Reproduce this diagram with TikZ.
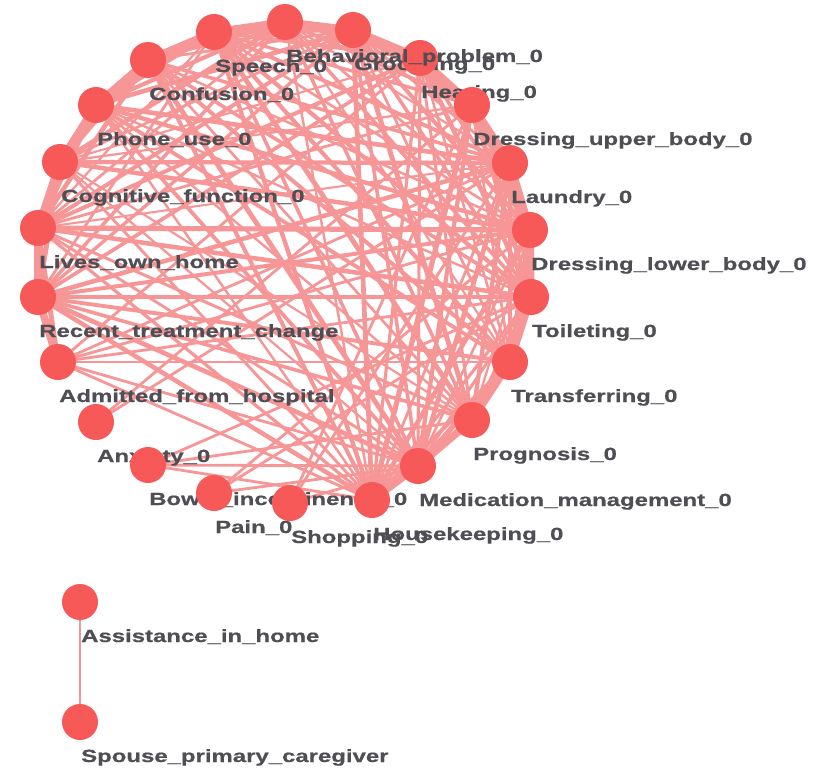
\documentclass[tikz,border=0pt]{standalone}
\usepackage{fontspec}
\newfontfamily\labfont[FakeStretch=1.36,FakeBold=0.6]{Liberation Sans Bold}
\definecolor{nodecol}{RGB}{247,88,88}
\definecolor{edgecol}{RGB}{247,150,150}
\definecolor{txtcol}{RGB}{78,78,84}
\pgfdeclarelayer{bg}
\pgfdeclarelayer{labl}
\pgfdeclarelayer{fg}
\pgfsetlayers{bg,labl,main,fg}
\begin{document}
\begin{tikzpicture}[x=1pt,y=-1pt,
  vtx/.style={circle,fill=nodecol,minimum size=36pt,inner sep=0pt},
  lab/.style={anchor=base west,inner sep=0pt,text=txtcol,font=\labfont\fontsize{17.6}{18}\selectfont},
  edge/.style={draw=edgecol,line cap=round},
  thick edge/.style={edge,line width=7.5pt},
  mid edge/.style={edge,line width=5pt},
  thin edge/.style={edge,line width=2.8pt}]
\path[use as bounding box] (0,0) rectangle (817,768);
\foreach \n/\x/\y/\t in {
  sp/214/32/Speech\_0, gr/353/30/Grooming\_0, he/420/58/Hearing\_0,
  du/472/105/Dressing\_upper\_body\_0, la/510/163/Laundry\_0,
  dl/530/230/Dressing\_lower\_body\_0, to/531/297/Toileting\_0,
  tr/510/362/Transferring\_0, pr/472/420/Prognosis\_0,
  mm/418/466/Medication\_management\_0, hk/372/500/Housekeeping\_0,
  sh/290/503/Shopping\_0, pa/214/493/Pain\_0,
  bo/148/465/Bowel\_incontinence\_0, an/96/422/Anxiety\_0,
  ad/58/362/Admitted\_from\_hospital, rt/38/297/Recent\_treatment\_change,
  lo/38/228/Lives\_own\_home, cf/60/162/Cognitive\_function\_0,
  ph/96/105/Phone\_use\_0, co/148/60/Confusion\_0,
  ah/80/602/Assistance\_in\_home, spc/80/722/Spouse\_primary\_caregiver}{
  \node[vtx] (\n) at (\x,\y) {};
  \begin{pgfonlayer}{labl}
    \node[lab] (\n-l) at (\x+1,\y+40) {\t};
  \end{pgfonlayer}
}
\node[vtx] (be) at (285,22) {};
\begin{pgfonlayer}{fg}
  \node[lab] (be-l) at (286,62) {Behavioral\_problem\_0};
\end{pgfonlayer}
\begin{pgfonlayer}{bg}
  \fill[white] (0,0) rectangle (817,768);
  \pgfmathsetseed{11}
  \foreach \a [count=\i] in {sp,be,gr,he,du,la,dl,to,tr,pr,mm,hk,co,ph,cf,lo,rt}{
    \foreach \b [count=\j] in {sp,be,gr,he,du,la,dl,to,tr,pr,mm,hk,co,ph,cf,lo,rt}{
      \ifnum\j>\i\relax
        \pgfmathsetmacro\r{rnd}
        \pgfmathsetmacro\w{2.0+3.2*rnd}
        \ifdim\r pt<0.85pt
          \draw[edge,line width=\w pt] (\a.center) -- (\b.center);
        \fi
      \fi
    }
  }
  \foreach \a/\b in {sp/be,be/gr,gr/he,he/du,du/la,la/dl,dl/to,to/tr,tr/pr,pr/mm,mm/hk,
                     rt/lo,lo/cf,cf/ph,ph/co,co/sp,ad/rt}
    \draw[thick edge] (\a.center) -- (\b.center);
  \foreach \a/\b in {du/dl,la/to,dl/tr,to/pr,tr/mm,pr/hk,he/la,gr/du,
                     co/cf,ph/lo,cf/rt,sp/ph,be/co,lo/ad}
    \draw[mid edge] (\a.center) -- (\b.center);
  \foreach \a/\b in {ad/to,ad/tr,ad/mm,ad/dl,ad/la,ad/he,ad/hk,
                     an/du,an/la,bo/mm,bo/pr,bo/to,bo/hk,
                     pa/dl,pa/to,pa/mm,sh/la,sh/du,sh/mm}
    \draw[thin edge] (\a.center) -- (\b.center);
  \draw[edge,line width=2.6pt] (ah.center) -- (spc.center);
\end{pgfonlayer}
\end{tikzpicture}
\end{document}
